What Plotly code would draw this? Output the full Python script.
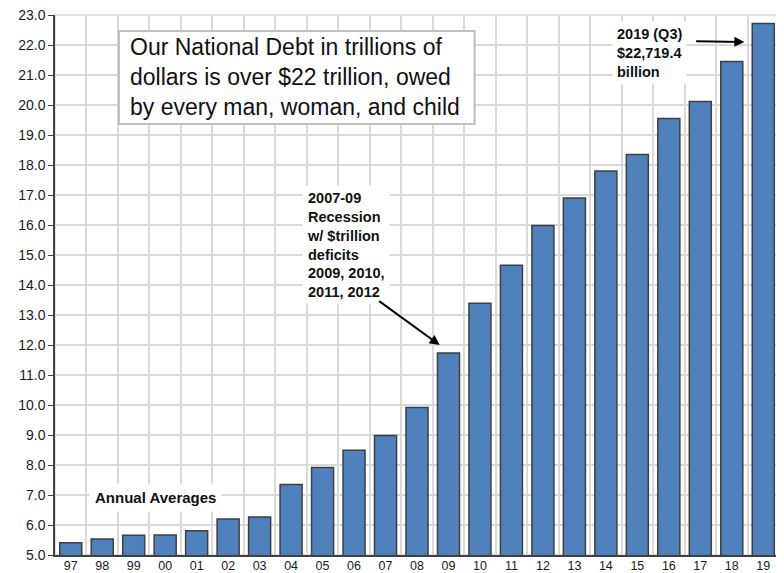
import plotly.graph_objects as go

years = ["97", "98", "99", "00", "01", "02", "03", "04", "05", "06", "07", "08",
         "09", "10", "11", "12", "13", "14", "15", "16", "17", "18", "19"]
debt = [5.41, 5.53, 5.66, 5.67, 5.81, 6.20, 6.27, 7.35, 7.92, 8.49, 8.98, 9.92,
        11.73, 13.39, 14.66, 15.98, 16.90, 17.80, 18.35, 19.55, 20.12, 21.45, 22.72]
y_ticks = [5 + i for i in range(19)]

FONT = "Arial, Liberation Sans, sans-serif"

fig = go.Figure()
fig.add_trace(go.Bar(
    x=years, y=debt,
    marker=dict(color="#4F81BD", line=dict(color="#3F3F3F", width=1.5)),
    hoverinfo="x+y",
))

# page body has an 8px offset, so the figure is sized to the visible area
fig.update_layout(
    width=776, height=565,
    margin=dict(l=47, r=5, t=7, b=18, autoexpand=False),
    paper_bgcolor="white", plot_bgcolor="white",
    bargap=0.3,
    showlegend=False,
    font=dict(family=FONT, color="#1a1a1a"),
    xaxis=dict(
        type="category", tickson="boundaries", ticks="",
        showgrid=True, gridcolor="#D9D9D9", gridwidth=1.5,
        showline=True, linecolor="#404040", linewidth=1.5,
        tickfont=dict(size=12.5, family=FONT, color="#1a1a1a"),
        ticklabelstandoff=-2, automargin=False, ticklabeloverflow="allow",
    ),
    yaxis=dict(
        range=[5, 23], tickvals=y_ticks, tickformat=".1f",
        showgrid=True, gridcolor="#D9D9D9", gridwidth=1.5,
        showline=True, linecolor="#404040", linewidth=1.5,
        ticks="outside", ticklen=5, tickcolor="#404040",
        tickfont=dict(size=14, family=FONT, color="#1a1a1a"),
        zeroline=False, automargin=False, ticklabeloverflow="allow",
    ),
)

# light top/right frame
fig.add_shape(type="rect", xref="paper", yref="paper", x0=0, x1=1, y0=0, y1=1,
              line=dict(color="#D9D9D9", width=1.5), layer="below")

# Main message box
fig.add_shape(type="rect", xref="x", yref="y", x0=1.53, x1=12.83, y0=19.37, y1=22.47,
              line=dict(color="#BFBFBF", width=2), fillcolor="white", layer="above")
fig.add_annotation(
    xref="x", yref="y", x=1.81, y=20.92, xanchor="left", yanchor="middle",
    text="Our National Debt in trillions of<br>dollars is over $22 trillion, owed<br>by every man, woman, and child",
    align="left", showarrow=False,
    font=dict(size=23, family=FONT, color="#111111"),
)

# 2019 label
fig.add_annotation(
    xref="x", yref="y", x=17.21, y=21.75, xanchor="left", yanchor="middle",
    text="<b>2019 (Q3)<br>$22,719.4<br>billion</b>", align="left", showarrow=False,
    font=dict(size=14.5, family=FONT, color="#111111"),
    bgcolor="white", borderpad=4,
)
fig.add_annotation(
    xref="x", yref="y", x=21.4, y=22.1, axref="x", ayref="y", ax=19.82, ay=22.13,
    text="", showarrow=True, arrowhead=2, arrowsize=1, arrowwidth=2, arrowcolor="#000000",
)

# Recession label
fig.add_annotation(
    xref="x", yref="y", x=7.35, y=15.35, xanchor="left", yanchor="middle",
    text="<b>2007-09<br>Recession<br>w/ $trillion<br>deficits<br>2009, 2010,<br>2011, 2012</b>",
    align="left", showarrow=False,
    font=dict(size=14.5, family=FONT, color="#111111"),
    bgcolor="white", borderpad=4,
)
fig.add_annotation(
    xref="x", yref="y", x=11.72, y=12.0, axref="x", ayref="y", ax=9.75, ay=13.5,
    text="", showarrow=True, arrowhead=2, arrowsize=1, arrowwidth=2, arrowcolor="#000000",
)

# Annual averages label
fig.add_annotation(
    xref="x", yref="y", x=2.7, y=6.93, xanchor="center", yanchor="middle",
    text="<b>Annual Averages</b>", showarrow=False,
    font=dict(size=15, family=FONT, color="#111111"),
    bgcolor="white", borderpad=5,
)

fig.write_html("out.html")
